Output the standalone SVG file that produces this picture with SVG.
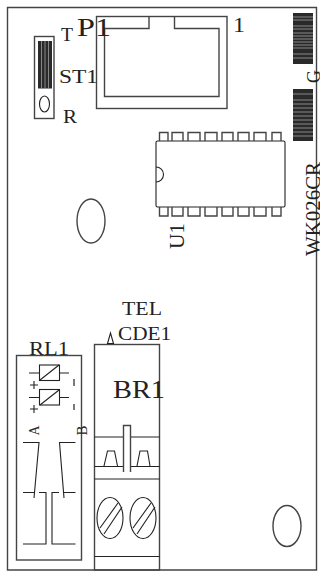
<svg xmlns="http://www.w3.org/2000/svg" width="320" height="571" viewBox="0 0 320 571">
<style>
.l{fill:none;stroke:#222;stroke-width:1.1}
.g{fill:none;stroke:#444;stroke-width:1.4}
.t{font-family:"Liberation Serif",serif;fill:#222}
.bar{fill:#2a2a2a}
.barl{stroke:#888;stroke-width:1}
</style>
<rect width="320" height="571" fill="#fff"/>
<g id="board"><path class="g" d="M316.500 7.500H7.500V570H316.500Z"/></g>
<g id="P1">
<rect class="g" x="96.500" y="16.500" width="130.500" height="92"/>
<path class="g" d="M149 16.500V28.500H104.500V96.500H219V28.500H174.500V16.500"/>
<text class="t" x="77" y="35.500" font-size="26" textLength="34" lengthAdjust="spacingAndGlyphs">P1</text>
<text class="t" x="233" y="32" font-size="21" textLength="12" lengthAdjust="spacingAndGlyphs">1</text>
</g>
<g id="ST1">
<rect class="g" x="34.500" y="36.500" width="19.500" height="82"/>
<rect class="bar" x="38" y="41" width="14" height="47.500"/>
<path class="barl" d="M41.500 41V88M45 41V88M48.500 41V88"/>
<ellipse class="l" cx="44.500" cy="104" rx="5" ry="8"/>
<text class="t" x="61" y="41" font-size="19" textLength="12" lengthAdjust="spacingAndGlyphs">T</text>
<text class="t" x="59" y="83" font-size="19" textLength="39" lengthAdjust="spacingAndGlyphs">ST1</text>
<text class="t" x="63" y="123" font-size="19" textLength="14" lengthAdjust="spacingAndGlyphs">R</text>
</g>
<g id="G">
<rect class="bar" x="293" y="13" width="20" height="51"/>
<path class="barl" d="M293 17H313M293 20H313M293 26H313M293 29H313M293 33H313M293 36H313M293 39H313M293 42H313M293 45H313M293 48H313M293 54H313M293 58H313"/>
<rect class="bar" x="293" y="89" width="20" height="52"/>
<path class="barl" d="M293 94H313M293 100H313M293 104H313M293 108H313M293 112H313M293 116H313M293 120H313M293 124H313M293 128H313M293 132H313M293 136H313"/>
<text class="t" transform="translate(319.500 83) rotate(-90)" font-size="19" textLength="13" lengthAdjust="spacingAndGlyphs">G</text>
</g>
<g id="U1">
<rect class="l" x="156" y="141" width="129" height="66" rx="1.500"/>
<path class="l" d="M156 167A7.500 7.500 0 0 1 156 182"/>
<path class="g" d="M159.500 141V132.500H168V141M172 141V132.500H183V141M188 141V132.500H200V141M205 141V132.500H217V141M222 141V132.500H233V141M238 141V132.500H249V141M254 141V132.500H266V141M272 141V132.500H281V141"/>
<path class="g" d="M159.500 207V216H168V207M172 207V216H183V207M188 207V216H200V207M205 207V216H217V207M222 207V216H233V207M238 207V216H249V207M254 207V216H266V207M272 207V216H281V207"/>
<text class="t" transform="translate(183.500 249) rotate(-90)" font-size="20" textLength="26" lengthAdjust="spacingAndGlyphs">U1</text>
</g>
<g id="WK026CR"><text class="t" transform="translate(319.500 256) rotate(-90)" font-size="20" textLength="94" lengthAdjust="spacingAndGlyphs">WK026CR</text></g>
<g id="hole1"><ellipse class="g" cx="91" cy="221" rx="14" ry="22"/></g>
<g id="hole2"><ellipse class="g" cx="287" cy="526" rx="14" ry="20.500"/></g>
<g id="RL1">
<rect class="g" x="16.500" y="355.500" width="65" height="204.500"/>
<text class="t" x="29" y="354.500" font-size="18.500" textLength="40" lengthAdjust="spacingAndGlyphs">RL1</text>
<rect class="l" x="39.500" y="365" width="20" height="15.500"/>
<rect class="l" x="39.500" y="389.500" width="20" height="15.500"/>
<path class="l" d="M29 373H39.500M59.500 373H69M40 380L59 365M29 397.500H39.500M59.500 397.500H69M40 405L59 390"/>
<path class="l" d="M30 385H38M34 381V389M30 409H38M34 405V413"/>
<path class="g" d="M74 379V386M74 404V410"/>
<text class="t" transform="translate(38.500 435.500) rotate(-90)" font-size="15" textLength="10" lengthAdjust="spacingAndGlyphs">A</text>
<text class="t" transform="translate(87 435.500) rotate(-90)" font-size="15" textLength="10" lengthAdjust="spacingAndGlyphs">B</text>
<path class="l" d="M23 442.500H39L34 498M75.500 442.500H59.500L64 498"/>
<path class="l" d="M23 492.500H34.500M39 492.500H46V544H23M75.500 492.500H63.500M59 492.500H52V544H75.500"/>
</g>
<g id="BR1">
<rect class="g" x="94.500" y="344.500" width="65" height="225.500"/>
<path class="l" d="M94.500 437H123M130.500 437H159.500M94.500 466.500H123M130.500 466.500H159.500M94.500 479H159.500M94.500 556.500H159.500"/>
<path class="g" d="M123.500 472V425.500H130.500V472"/>
<path class="l" d="M104 466L107.500 451H114.500L117.500 466M137 466L140 451H147.500L150 466"/>
<ellipse class="l" cx="110" cy="518" rx="13" ry="20.500"/>
<ellipse class="l" cx="143" cy="518" rx="13" ry="20.500"/>
<path class="l" d="M100 528L118 503M104 534L122 507M133 528L151 503M137 534L155 507"/>
<path class="l" d="M107.500 343.500L110.500 333L113.500 343.500Z"/>
<text class="t" x="122" y="315" font-size="19" textLength="40" lengthAdjust="spacingAndGlyphs">TEL</text>
<text class="t" x="118" y="340" font-size="19" textLength="53" lengthAdjust="spacingAndGlyphs">CDE1</text>
<text class="t" x="113" y="398" font-size="26" textLength="52" lengthAdjust="spacingAndGlyphs">BR1</text>
</g>
</svg>
